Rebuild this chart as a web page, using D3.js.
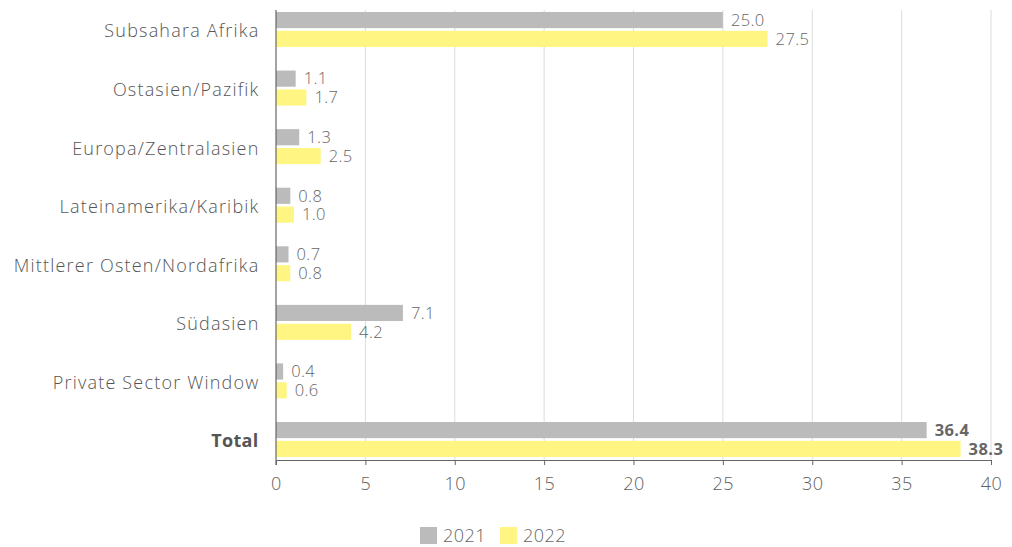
<!DOCTYPE html>
<html><head><meta charset="utf-8">
<script src="https://cdn.jsdelivr.net/npm/d3@7"></script>
<style>body{margin:0;background:#fff;} text{font-family:"Open Sans",Lato,sans-serif;}</style>
</head><body><svg id="c" width="1012" height="547"></svg>
<script>
const categories = ["Subsahara Afrika","Ostasien/Pazifik","Europa/Zentralasien","Lateinamerika/Karibik","Mittlerer Osten/Nordafrika","Südasien","Private Sector Window","Total"];
const series = ["2021","2022"];
const values2021 = [25.0,1.1,1.3,0.8,0.7,7.1,0.4,36.4];
const values2022 = [27.5,1.7,2.5,1.0,0.8,4.2,0.6,38.3];
const xTicks = [0,5,10,15,20,25,30,35,40];
const colors = ["#bbbbbc","#fff582"];
const FONT = "'Open Sans',Lato,sans-serif";

const svg = d3.select("#c");
const x = d3.scaleLinear().domain([0,40]).range([276,991]);
const y = d3.scaleBand().domain(categories).range([0.2,468.8]);
const sub = d3.scaleBand().domain(series).range([0,35]).paddingInner(0.143);
const axisY = 460;

svg.append("g").selectAll("line").data(xTicks.slice(1)).join("line")
  .attr("x1",d=>x(d)).attr("x2",d=>x(d)).attr("y1",10).attr("y2",axisY)
  .attr("stroke","#dcdcdc").attr("stroke-width",1);

const data = categories.map((c,i)=>({c, v:[values2021[i],values2022[i]]}));
const g = svg.append("g");
data.forEach(d=>{
  const top = y(d.c)+y.bandwidth()/2-17.5;
  const bold = d.c==="Total";
  series.forEach((s,j)=>{
    const v = d.v[j];
    g.append("rect").attr("x",x(0)).attr("y",top+sub(s)).attr("width",x(v)-x(0)).attr("height",sub.bandwidth()).attr("fill",colors[j]);
    g.append("text").attr("x",x(v)+8).attr("y",top+sub(s)+sub.bandwidth()/2).attr("dy","0.35em")
      .attr("font-size",16.5).attr("letter-spacing","0.4px").attr("fill","#666").attr("font-weight",bold?"bold":"300").text(v.toFixed(1));
  });
  svg.append("text").attr("x",bold?258.5:259.5).attr("y",y(d.c)+y.bandwidth()/2+1.5).attr("dy","0.36em")
    .attr("text-anchor","end").attr("font-size",18).attr("letter-spacing",bold?"0.3px":"1.2px").attr("fill","#555")
    .attr("font-weight",bold?"bold":"300").text(d.c);
});

const xa = svg.append("g").attr("transform",`translate(0,${axisY})`)
  .call(d3.axisBottom(x).tickValues(xTicks).tickSize(5).tickPadding(12).tickFormat(d3.format("d")));
xa.select(".domain").attr("stroke","#666");
xa.selectAll(".tick line").attr("stroke","#666");
xa.selectAll("text").attr("font-size",18).attr("letter-spacing","0.5px").attr("fill","#606060").attr("font-weight","300").style("font-family",FONT);
svg.append("line").attr("x1",x(0)).attr("x2",x(0)).attr("y1",10).attr("y2",axisY+5).attr("stroke","#666").attr("stroke-width",1.2);

const lx = [420,500];
series.forEach((s,j)=>{
  svg.append("rect").attr("x",lx[j]).attr("y",527).attr("width",17).attr("height",17).attr("fill",colors[j]);
  svg.append("text").attr("x",lx[j]+23).attr("y",536).attr("dy","0.36em").attr("font-size",18).attr("letter-spacing","0.5px").attr("font-weight","300").attr("fill","#666").text(s);
});
</script></body></html>
